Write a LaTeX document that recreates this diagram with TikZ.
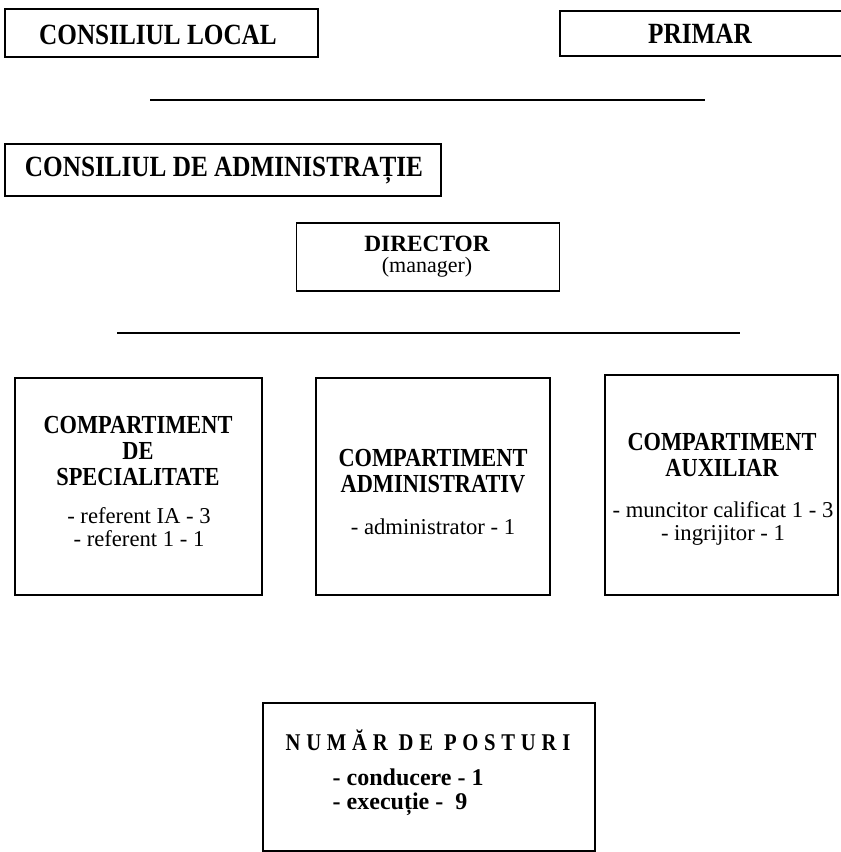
\documentclass[tikz,border=0pt]{standalone}
\usepackage{fontspec}
\setmainfont{Liberation Serif}[FakeStretch=0.86]
\newfontfamily\widerm{Liberation Serif}
\begin{document}
\begin{tikzpicture}[x=0.75pt,y=-0.75pt,
  box/.style={draw,line width=0.9pt,inner sep=0pt},
  bigtitle/.style={font=\fontsize{22}{24}\selectfont\bfseries},
  comptitle/.style={font=\fontsize{19.5}{19.5}\selectfont\bfseries,align=center},
  items/.style={font=\widerm\fontsize{17}{17.25}\selectfont,align=center},
  rule/.style={line width=0.9pt}]
\useasboundingbox (0,0) rectangle (840,852);
% boxes
\node[box,minimum width=234.75pt,minimum height=36pt] (cl) at (161.5,33) {};
\node[box,minimum width=217.5pt,minimum height=33.75pt] (pr) at (705,33.5) {};
\node[box,minimum width=327pt,minimum height=39pt] (ca) at (223,170) {};
\node[box,minimum width=197.25pt,minimum height=51pt] (dir) at (428,257) {};
\node[box,minimum width=185.25pt,minimum height=162.75pt] (b1) at (138.5,486.5) {};
\node[box,minimum width=175.5pt,minimum height=162.75pt] (b2) at (433,486.5) {};
\node[box,minimum width=174.75pt,minimum height=165pt] (b3) at (721.5,485) {};
\node[box,minimum width=249pt,minimum height=111pt] (num) at (429,777) {};
% texts
\node[bigtitle] (tcl) at (158,35) {CONSILIUL LOCAL};
\node[bigtitle] (tpr) at (700,34) {PRIMAR};
\node[bigtitle] (tca) at (224,171) {CONSILIUL DE ADMINISTRAȚIE};
\node[font=\widerm\fontsize{17.5}{18}\selectfont\bfseries] (tdir) at (427,244) {DIRECTOR};
\node[font=\widerm\fontsize{16.5}{17}\selectfont] (tman) at (427,267) {(manager)};
\node[comptitle] (t1) at (138,451) {COMPARTIMENT\\DE\\SPECIALITATE};
\node[items] (i1) at (139,527.5) {- referent IA - 3\\- referent 1 - 1};
\node[comptitle] (t2) at (433,471) {COMPARTIMENT\\ADMINISTRATIV};
\node[items] (i2) at (433,527) {- administrator - 1};
\node[comptitle] (t3) at (722,455.5) {COMPARTIMENT\\AUXILIAR};
\node[items] (i3) at (723,523) {- muncitor calificat 1 - 3\\- ingrijitor - 1};
\node[font=\fontsize{18}{19}\selectfont\bfseries\addfontfeature{LetterSpace=24}] (tnum) at (428,740) {NUMĂR DE POSTURI};
\node[font=\widerm\fontsize{18}{18}\selectfont\bfseries,align=left,anchor=west] (inum) at (328,792) {- conducere - 1\\- execuție - \ 9};
% horizontal rules
\coordinate (r1a) at (150,100); \coordinate (r1b) at (705,100);
\coordinate (r2a) at (117,333); \coordinate (r2b) at (740,333);
\draw[rule] (r1a) -- (r1b);
\draw[rule] (r2a) -- (r2b);
\end{tikzpicture}
\end{document}
